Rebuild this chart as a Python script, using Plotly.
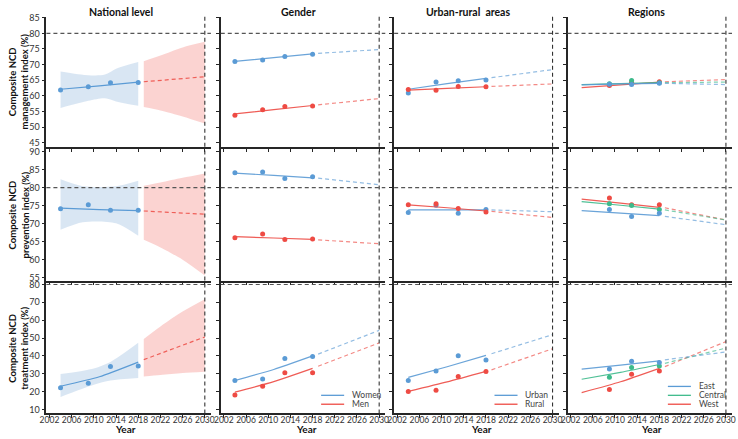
import plotly.graph_objects as go

# ---------------- data ----------------
years = [2004, 2009, 2013, 2018]
region_years = [2009, 2013, 2018]
fit_years = [2004, 2011, 2018]
fc_years = [2019, 2030]

row_titles = ["Composite NCD<br>management index (%)",
              "Composite NCD<br>prevention index (%)",
              "Composite NCD<br>treatment index (%)"]
col_titles = ["National level", "Gender", "Urban-rural  areas", "Regions"]
x_ticks = [2002, 2006, 2010, 2014, 2018, 2022, 2026, 2030]

# National level
nat_mgmt_pts = [61.9, 62.9, 64.2, 64.3]
nat_mgmt_fit = [62.1, 63.2, 64.4]
nat_mgmt_fc = [64.5, 66.1]
nat_mgmt_band_years = [2004, 2009, 2012, 2014, 2018]
nat_mgmt_band_lo = [56.1, 58.4, 59.2, 58.2, 56.8]
nat_mgmt_band_hi = [67.8, 66.6, 66.8, 68.7, 70.8]
nat_mgmt_fcband_years = [2019, 2022, 2026, 2030]
nat_mgmt_fcband_lo = [56.4, 55.3, 53.4, 51.1]
nat_mgmt_fcband_hi = [71.1, 72.9, 75.5, 77.3]

nat_prev_pts = [74.1, 75.2, 73.7, 73.7]
nat_prev_fit = [74.3, 73.9, 73.6]
nat_prev_fc = [73.5, 72.6]
nat_prev_band_years = [2004, 2008, 2014, 2018]
nat_prev_band_lo = [68.3, 70.4, 70.1, 66.6]
nat_prev_band_hi = [82.3, 80.4, 80.4, 81.9]
nat_prev_fcband_years = [2019, 2022, 2026, 2030]
nat_prev_fcband_lo = [65.5, 63.4, 60.0, 55.6]
nat_prev_fcband_hi = [80.5, 81.4, 82.7, 83.9]

nat_treat_pts = [22.1, 24.7, 34.1, 34.4]
nat_treat_fit = [23.0, 28.3, 36.5]
nat_treat_fc = [37.9, 50.6]
nat_treat_band_years = [2004, 2010, 2013, 2018]
nat_treat_band_lo = [17.0, 23.8, 26.2, 27.6]
nat_treat_band_hi = [29.8, 33.0, 36.6, 47.3]
nat_treat_fcband_years = [2019, 2022, 2026, 2030]
nat_treat_fcband_lo = [28.4, 29.3, 30.4, 31.1]
nat_treat_fcband_hi = [49.5, 56.5, 64.8, 71.7]

# Gender
women_mgmt_pts = [71.0, 71.5, 72.6, 73.3]
women_mgmt_fit = [71.0, 72.2, 73.4]
women_mgmt_fc = [73.6, 74.8]
men_mgmt_pts = [53.8, 55.5, 56.6, 56.7]
men_mgmt_fit = [54.2, 55.6, 56.9]
men_mgmt_fc = [57.1, 59.1]

women_prev_pts = [84.1, 84.3, 82.5, 83.0]
women_prev_fit = [84.0, 83.4, 82.7]
women_prev_fc = [82.6, 80.8]
men_prev_pts = [66.1, 67.1, 65.6, 65.7]
men_prev_fit = [66.4, 66.0, 65.6]
men_prev_fc = [65.5, 64.4]

women_treat_pts = [26.2, 27.1, 38.5, 39.6]
women_treat_fit = [26.2, 32.4, 40.0]
women_treat_fc = [41.0, 54.3]
men_treat_pts = [18.1, 23.0, 30.6, 30.6]
men_treat_fit = [19.7, 25.6, 33.0]
men_treat_fc = [34.2, 47.3]

# Urban-rural
urban_mgmt_pts = [60.9, 64.4, 64.8, 65.1]
urban_mgmt_fit = [62.1, 63.9, 65.6]
urban_mgmt_fc = [65.8, 68.4]
rural_mgmt_pts = [62.0, 61.8, 63.0, 62.9]
rural_mgmt_fit = [61.8, 62.4, 62.9]
rural_mgmt_fc = [63.0, 63.8]

urban_prev_pts = [73.1, 75.1, 72.9, 73.9]
urban_prev_fit = [73.8, 73.8, 73.8]
urban_prev_fc = [73.8, 73.3]
rural_prev_pts = [75.2, 75.5, 74.2, 73.2]
rural_prev_fit = [75.2, 74.4, 73.5]
rural_prev_fc = [73.4, 71.7]

urban_treat_pts = [26.2, 31.5, 40.1, 37.7]
urban_treat_fit = [28.0, 33.9, 40.3]
urban_treat_fc = [41.2, 51.9]
rural_treat_pts = [20.1, 20.7, 28.4, 31.3]
rural_treat_fit = [20.1, 25.4, 31.3]
rural_treat_fc = [32.2, 44.0]

# Regions
east_mgmt_pts = [63.7, 63.6, 64.0]
east_mgmt_fit = [63.5, 63.8, 64.0]
east_mgmt_fc = [64.0, 63.6]
central_mgmt_pts = [63.9, 64.9, 64.2]
central_mgmt_fit = [63.6, 63.9, 64.2]
central_mgmt_fc = [64.2, 64.4]
west_mgmt_pts = [63.3, 64.3, 64.5]
west_mgmt_fit = [62.6, 63.5, 64.4]
west_mgmt_fc = [64.5, 65.2]

east_prev_pts = [73.9, 72.0, 72.9]
east_prev_fit = [73.6, 72.9, 72.2]
east_prev_fc = [72.0, 69.7]
central_prev_pts = [75.5, 75.0, 73.9]
central_prev_fit = [76.1, 75.1, 74.0]
central_prev_fc = [73.8, 71.0]
west_prev_pts = [77.1, 75.2, 75.2]
west_prev_fit = [76.8, 75.7, 74.5]
west_prev_fc = [74.4, 71.0]

east_treat_pts = [32.6, 37.0, 36.3]
east_treat_fit = [32.6, 34.8, 37.2]
east_treat_fc = [37.8, 42.2]
central_treat_pts = [28.0, 33.5, 34.4]
central_treat_fit = [26.9, 30.8, 35.2]
central_treat_fc = [35.8, 44.4]
west_treat_pts = [21.2, 29.7, 31.5]
west_treat_fit = [19.4, 25.5, 33.0]
west_treat_fc = [34.0, 48.0]

# ---------------- styling ----------------
W, H = 738, 439
FONT = "Lato, 'Open Sans', sans-serif"
BLUE = "#5b9bd5"
RED = "#ee4b44"
GREEN = "#3dba8b"
BLUE_BAND = "rgba(196,216,236,0.65)"
RED_BAND = "rgba(250,196,194,0.75)"
AXIS = "#262626"

col_px = [40, 217, 393, 569]
col_w = 167
row_px = [(12, 144), (146, 280), (282, 415)]
x_range = [2001.45, 2031.1]
y_ranges = [[43.7, 85.3], [54.2, 90.8], [7.8, 81.1]]
y_ticks = [list(range(45, 86, 5)), list(range(55, 91, 5)), list(range(10, 81, 10))]

fig = go.Figure()


def ax_id(k):
    return "" if k == 1 else str(k)


def add_line(k, x, y, color, dash="solid", opacity=1.0, width=1.2):
    fig.add_trace(go.Scatter(x=x, y=y, mode="lines", xaxis="x" + ax_id(k), yaxis="y" + ax_id(k),
                             line=dict(color=color, width=width, dash=dash, shape="spline", smoothing=0.6),
                             opacity=opacity, showlegend=False, hoverinfo="skip"))


def add_pts(k, x, y, color):
    fig.add_trace(go.Scatter(x=x, y=y, mode="markers", xaxis="x" + ax_id(k), yaxis="y" + ax_id(k),
                             marker=dict(color=color, size=5), showlegend=False))


def add_band(k, x, lo, hi, color):
    fig.add_trace(go.Scatter(x=x, y=lo, mode="lines", xaxis="x" + ax_id(k), yaxis="y" + ax_id(k),
                             line=dict(width=0, shape="spline", smoothing=0.8), showlegend=False, hoverinfo="skip"))
    fig.add_trace(go.Scatter(x=x, y=hi, mode="lines", xaxis="x" + ax_id(k), yaxis="y" + ax_id(k),
                             line=dict(width=0, shape="spline", smoothing=0.8), fill="tonexty",
                             fillcolor=color, showlegend=False, hoverinfo="skip"))


def series(k, xp, pts, fit, fc, color, fc_opacity=0.65, dash="4px,3px"):
    add_line(k, fit_years, fit, color, opacity=0.9)
    add_line(k, fc_years, fc, color, dash=dash, opacity=fc_opacity)
    add_pts(k, xp, pts, color)


# National
nat = [
    (nat_mgmt_pts, nat_mgmt_fit, nat_mgmt_fc, nat_mgmt_band_years, nat_mgmt_band_lo, nat_mgmt_band_hi,
     nat_mgmt_fcband_years, nat_mgmt_fcband_lo, nat_mgmt_fcband_hi),
    (nat_prev_pts, nat_prev_fit, nat_prev_fc, nat_prev_band_years, nat_prev_band_lo, nat_prev_band_hi,
     nat_prev_fcband_years, nat_prev_fcband_lo, nat_prev_fcband_hi),
    (nat_treat_pts, nat_treat_fit, nat_treat_fc, nat_treat_band_years, nat_treat_band_lo, nat_treat_band_hi,
     nat_treat_fcband_years, nat_treat_fcband_lo, nat_treat_fcband_hi),
]
for r, (pts, fit, fc, by, blo, bhi, fy, flo, fhi) in enumerate(nat):
    k = r * 4 + 1
    add_band(k, by, blo, bhi, BLUE_BAND)
    add_band(k, fy, flo, fhi, RED_BAND)
    add_line(k, fit_years, fit, BLUE)
    add_line(k, fc_years, fc, RED, dash="4px,3px", opacity=0.85)
    add_pts(k, years, pts, BLUE)

gender = [
    (women_mgmt_pts, women_mgmt_fit, women_mgmt_fc, men_mgmt_pts, men_mgmt_fit, men_mgmt_fc),
    (women_prev_pts, women_prev_fit, women_prev_fc, men_prev_pts, men_prev_fit, men_prev_fc),
    (women_treat_pts, women_treat_fit, women_treat_fc, men_treat_pts, men_treat_fit, men_treat_fc),
]
for r, (wp, wf, wc, mp, mf, mc) in enumerate(gender):
    k = r * 4 + 2
    series(k, years, wp, wf, wc, BLUE)
    series(k, years, mp, mf, mc, RED)

urban = [
    (urban_mgmt_pts, urban_mgmt_fit, urban_mgmt_fc, rural_mgmt_pts, rural_mgmt_fit, rural_mgmt_fc),
    (urban_prev_pts, urban_prev_fit, urban_prev_fc, rural_prev_pts, rural_prev_fit, rural_prev_fc),
    (urban_treat_pts, urban_treat_fit, urban_treat_fc, rural_treat_pts, rural_treat_fit, rural_treat_fc),
]
for r, (up, uf, uc, rp, rf, rc) in enumerate(urban):
    k = r * 4 + 3
    series(k, years, up, uf, uc, BLUE)
    series(k, years, rp, rf, rc, RED)

regions = [
    (east_mgmt_pts, east_mgmt_fit, east_mgmt_fc, central_mgmt_pts, central_mgmt_fit, central_mgmt_fc,
     west_mgmt_pts, west_mgmt_fit, west_mgmt_fc),
    (east_prev_pts, east_prev_fit, east_prev_fc, central_prev_pts, central_prev_fit, central_prev_fc,
     west_prev_pts, west_prev_fit, west_prev_fc),
    (east_treat_pts, east_treat_fit, east_treat_fc, central_treat_pts, central_treat_fit, central_treat_fc,
     west_treat_pts, west_treat_fit, west_treat_fc),
]
for r, (ep, ef, ec, cp, cf, cc, wp, wf, wc) in enumerate(regions):
    k = r * 4 + 4
    series(k, region_years, wp, wf, wc, RED)
    series(k, region_years, cp, cf, cc, GREEN)
    series(k, region_years, ep, ef, ec, BLUE)

# ---------------- axes ----------------
layout = dict(width=W, height=H, margin=dict(l=0, r=0, t=0, b=0), plot_bgcolor="white",
              paper_bgcolor="white", font=dict(family=FONT, size=10, color="#333"), showlegend=False)
shapes = []
annotations = []
for r in range(3):
    top, bot = row_px[r]
    for c in range(4):
        k = r * 4 + c + 1
        x0 = col_px[c] / W
        x1 = (col_px[c] + col_w) / W
        layout["xaxis" + ax_id(k)] = dict(
            domain=[x0, x1], range=x_range, anchor="y" + ax_id(k), tickvals=x_ticks, tickangle=0,
            showticklabels=(r == 2), ticks="outside", ticklen=3, tickwidth=1, tickcolor=AXIS,
            ticklabelstandoff=-5,
            showline=True, linecolor=AXIS, linewidth=1.8, showgrid=False, zeroline=False,
            tickfont=dict(size=8.5, color="#333"))
        layout["yaxis" + ax_id(k)] = dict(
            domain=[1 - bot / H, 1 - top / H], range=y_ranges[r], anchor="x" + ax_id(k), tickvals=y_ticks[r],
            showticklabels=(c == 0), ticks="outside", ticklen=3, tickwidth=1, tickcolor=AXIS,
            showline=True, linecolor=AXIS, linewidth=1.8, showgrid=False, zeroline=False,
            tickfont=dict(size=9, color="#333"))
        xr = "x" + ax_id(k)
        yr = "y" + ax_id(k)
        shapes.append(dict(type="line", xref=xr + " domain", yref=yr, x0=0, x1=1, y0=80, y1=80,
                           line=dict(color="#555", width=1.1, dash="4px,3px"), layer="above"))
        shapes.append(dict(type="line", xref=xr, yref=yr + " domain", x0=2030, x1=2030, y0=0, y1=1,
                           line=dict(color="#333", width=1.1, dash="4px,3px"), layer="above"))

# column titles
for c, (t, cx) in enumerate(zip(col_titles, [116, 296, 468, 649])):
    annotations.append(dict(text="<b>" + t + "</b>", x=cx / W, y=1 - 7 / H, xref="paper", yref="paper",
                            showarrow=False, xanchor="center", yanchor="middle",
                            font=dict(size=10.5, color="#111")))
# row titles
for r, t in enumerate(row_titles):
    top, bot = row_px[r]
    annotations.append(dict(text="<b>" + t + "</b>", x=12 / W, y=1 - ((top + bot) / 2) / H,
                            xref="paper", yref="paper", textangle=-90, showarrow=False,
                            xanchor="center", yanchor="middle", font=dict(size=9.5, color="#111")))
# Year labels
for cx in [120, 304, 482, 654]:
    annotations.append(dict(text="<b>Year</b>", x=cx / W, y=0, xref="paper", yref="paper",
                            showarrow=False, xanchor="center", yanchor="bottom",
                            font=dict(size=10, color="#111")))

# legends (drawn inside bottom-row panels)
legend_sets = [
    (10, [("Women", BLUE), ("Men", RED)]),
    (11, [("Urban", BLUE), ("Rural", RED)]),
    (12, [("East", BLUE), ("Central", GREEN), ("West", RED)]),
]
for k, items in legend_sets:
    n = len(items)
    for i, (name, color) in enumerate(items):
        yy = 0.07 + (n - 1 - i) * 0.068
        shapes.append(dict(type="line", xref="x%d domain" % k, yref="y%d domain" % k,
                           x0=0.61, x1=0.75, y0=yy, y1=yy, line=dict(color=color, width=1.3)))
        annotations.append(dict(text=name, xref="x%d domain" % k, yref="y%d domain" % k, x=0.785, y=yy,
                                xanchor="left", yanchor="middle", showarrow=False,
                                font=dict(size=8.5, color="#444")))

layout["shapes"] = shapes
layout["annotations"] = annotations
fig.update_layout(**layout)
fig.write_html("out.html", config={"displayModeBar": False},
               post_script="document.body.style.margin='0';document.body.style.padding='0';")
